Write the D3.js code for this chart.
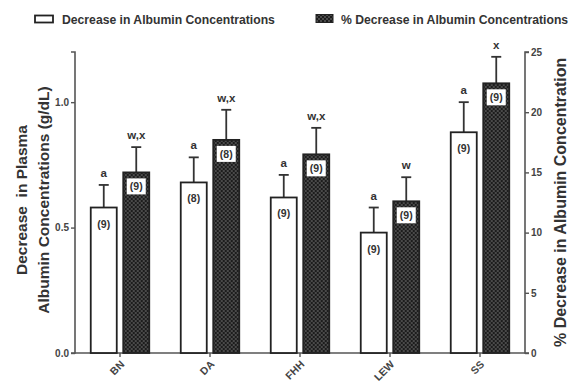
<!DOCTYPE html>
<html>
<head>
<meta charset="utf-8">
<script src="https://cdn.jsdelivr.net/npm/d3@7"></script>
<style>
  body{margin:0;background:#fff;}
  svg{font-family:"Liberation Sans",Arial,sans-serif;font-weight:bold;}
</style>
</head>
<body>
<svg id="chart" width="571" height="383"></svg>
<script>
// strains and the two measured series
var strains = ["BN","DA","FHH","LEW","SS"];
var decrease = [0.58,0.68,0.62,0.48,0.88];        // g/dL
var decreaseErr = [0.09,0.10,0.09,0.10,0.12];
var pctDecrease = [15.0,17.7,16.5,12.6,22.4];     // %
var pctErr = [2.1,2.5,2.2,2.0,2.2];
var nRats = [9,8,9,9,9];
var letterA = ["a","a","a","a","a"];
var letterW = ["w,x","w,x","w,x","w","x"];
var leftTicks = [0,0.5,1.0];
var rightTicks = [0,5,10,15,20,25];
var seriesNames = ["Decrease in Albumin Concentrations","% Decrease in Albumin Concentrations"];

(function(){
    'use strict';
    var svg = d3.select('#chart'),
        ink = '#333',
        axisInk = '#555',
        left = 75, right = 525, top = 52, bottom = 353;

    // checker pattern for the % bars
    var pat = svg.append('defs').append('pattern')
        .attr('id','checker').attr('width',4).attr('height',4)
        .attr('patternUnits','userSpaceOnUse');
    pat.append('rect').attr('width',4).attr('height',4).attr('fill','#1c1c1c');
    pat.append('rect').attr('x',0).attr('y',0).attr('width',2).attr('height',2).attr('fill','#4a4a4a');
    pat.append('rect').attr('x',2).attr('y',2).attr('width',2).attr('height',2).attr('fill','#4a4a4a');

    var x = d3.scaleBand().domain(strains).range([left,right]).paddingInner(0.35).paddingOuter(0.175);
    var xs = d3.scaleBand().domain([0,1]).range([0,x.bandwidth()]).paddingInner(0.2);
    var yL = d3.scaleLinear().domain([0,1.2]).range([bottom,top]);
    var yR = d3.scaleLinear().domain([0,25]).range([bottom,top]);

    // legend
    var leg = svg.append('g').attr('font-size',12.2).attr('fill',ink);
    leg.append('rect').attr('x',35).attr('y',15.5).attr('width',18).attr('height',7)
       .attr('fill','#fff').attr('stroke','#222').attr('stroke-width',1.8);
    leg.append('text').attr('x',62).attr('y',24).text(seriesNames[0]);
    leg.append('rect').attr('x',316).attr('y',14.5).attr('width',17).attr('height',8)
       .attr('fill','url(#checker)').attr('stroke','#222');
    leg.append('text').attr('x',341).attr('y',24).text(seriesNames[1]);

    // axes
    var axL = svg.append('g').attr('transform','translate('+left+',0)')
        .call(d3.axisLeft(yL).tickValues(leftTicks).tickFormat(d3.format('.1f')).tickSize(4).tickPadding(2));
    var axR = svg.append('g').attr('transform','translate('+right+',0)')
        .call(d3.axisRight(yR).tickValues(rightTicks).tickSize(4).tickPadding(2));
    var axB = svg.append('g').attr('transform','translate(0,'+bottom+')')
        .call(d3.axisBottom(x).tickSize(4).tickSizeOuter(0));
    [axL,axR,axB].forEach(function(a){
        a.selectAll('path').attr('stroke',axisInk).attr('stroke-width',1.6);
        a.selectAll('line').attr('stroke',axisInk).attr('stroke-width',1.4);
        a.selectAll('text').attr('fill','#444').attr('font-size',10).attr('font-family',null);
    });
    axL.select('.domain').attr('d','M-4,'+top+'H0V'+bottom+'H-4');
    axR.select('.domain').attr('d','M4,'+top+'H0V'+bottom+'H4');
    axB.select('.domain').attr('d','M'+left+',0H'+right);
    // strain names run diagonally, ending just under the tick
    axB.selectAll('text').attr('text-anchor','end')
        .attr('font-size',10.5)
        .attr('x',0).attr('y',0).attr('dy',0)
        .attr('transform','translate(5,12) rotate(-45)');

    // bars
    var groups = svg.append('g').selectAll('g').data(strains).enter().append('g')
        .attr('transform',function(d){return 'translate('+x(d)+',0)';});

    groups.each(function(s,i){
        var g = d3.select(this),
            bw = xs.bandwidth();
        var bars = [
            {k:0, top:yL(decrease[i]), err:yL(decrease[i]+decreaseErr[i]), letter:letterA[i]},
            {k:1, top:yR(pctDecrease[i]), err:yR(pctDecrease[i]+pctErr[i]), letter:letterW[i]}
        ];
        bars.forEach(function(b){
            var bx = xs(b.k), cx = bx + bw/2;
            g.append('line').attr('x1',cx).attr('x2',cx).attr('y1',b.top).attr('y2',b.err)
             .attr('stroke',ink).attr('stroke-width',1.8);
            g.append('line').attr('x1',cx-5).attr('x2',cx+5).attr('y1',b.err).attr('y2',b.err)
             .attr('stroke',ink).attr('stroke-width',1.8);
            g.append('rect').attr('x',bx).attr('y',b.top).attr('width',bw).attr('height',bottom-b.top)
             .attr('fill',b.k? 'url(#checker)':'#fff')
             .attr('stroke','#222').attr('stroke-width',1.8);
            if(b.k){
                g.append('rect').attr('x',cx-9.5).attr('y',b.top+6).attr('width',19).attr('height',16)
                 .attr('fill','#fff');
            }
            g.append('text').attr('x',cx).attr('y',b.k? b.top+18 : b.top+20)
             .attr('text-anchor','middle').attr('font-size',10.5).attr('fill',ink)
             .text('('+nRats[i]+')');
            g.append('text').attr('x',cx).attr('y',b.err-8)
             .attr('text-anchor','middle').attr('font-size',11.5).attr('fill',ink)
             .text(b.letter);
        });
    });

    // axis titles
    var lt = svg.append('text').attr('transform','translate(27,200) rotate(-90)')
        .attr('text-anchor','middle').attr('font-size',15.5).attr('fill',ink)
        .attr('xml:space','preserve');
    lt.append('tspan').attr('x',0).attr('dy',0).text('Decrease  in Plasma');
    lt.append('tspan').attr('x',0).attr('dy',22).text('Albumin Concentrations (g/dL)');

    svg.append('text').attr('transform','translate(566,347) rotate(-90)')
        .attr('text-anchor','start').attr('font-size',16).attr('fill',ink)
        .text('% Decrease in Albumin Concentration');
})();
</script>
</body>
</html>
